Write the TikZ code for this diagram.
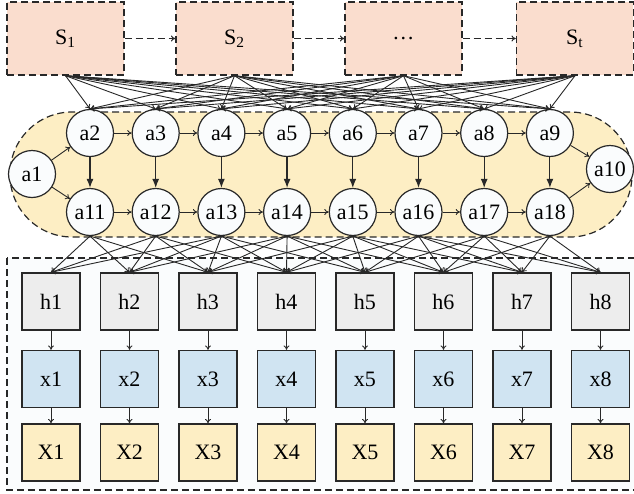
\documentclass[tikz,border=0pt]{standalone}
\usepackage{fontspec}
\setmainfont{Liberation Serif}
\usetikzlibrary{arrows.meta}
\definecolor{sfill}{RGB}{250,221,206}
\definecolor{yfill}{RGB}{253,238,196}
\definecolor{gfill}{RGB}{237,237,237}
\definecolor{bfill}{RGB}{208,228,242}
\definecolor{lc}{RGB}{40,40,40}
\definecolor{pfill}{RGB}{250,252,253}
\begin{document}
\begin{tikzpicture}[x=0.5pt,y=-0.5pt,font=\fontsize{11}{13}\selectfont,
  dsh/.style={dash pattern=on 3.5pt off 2pt},
  sbox/.style={draw=lc,dsh,fill=sfill,minimum width=58.5pt,minimum height=36.5pt,line width=0.7pt,inner sep=0pt},
  anode/.style={circle,draw=lc,fill=pfill,minimum size=23.5pt,inner sep=0pt,line width=0.6pt},
  sq/.style={draw=lc,minimum width=29pt,minimum height=28.5pt,inner sep=0pt,line width=0.7pt},
  edge/.style={draw=lc,line width=0.45pt},
  ta/.style={edge,-{To[length=2.2pt,width=3pt]}},
  va/.style={edge,line width=0.6pt,-{Latex[length=4.5pt,width=3.5pt]}},
  sa/.style={edge,-{To[length=2.2pt,width=3pt]}}]
\useasboundingbox (0,0) rectangle (634,494);
% background regions
\draw[draw=lc,dsh,line width=0.6pt,fill=yfill,rounded corners=31pt] (10,112) rectangle (632,237);
\draw[draw=lc,dsh,line width=0.6pt,fill=pfill] (7,258) rectangle (650,490);
% S boxes
\node[sbox] (S1) at (65.5,38.5) {S\textsubscript{1}};
\node[sbox] (S2) at (234.5,38.5) {S\textsubscript{2}};
\node[sbox] (S3) at (403.5,38.5) {\dots};
\node[sbox] (S4) at (575,38.5) {S\textsubscript{t}};
\draw[edge,dsh,line width=0.5pt,-{To[length=2.2pt,width=3pt]}] (S1) -- (S2);
\draw[edge,dsh,line width=0.5pt,-{To[length=2.2pt,width=3pt]}] (S2) -- (S3);
\draw[edge,dsh,line width=0.5pt,-{To[length=2.2pt,width=3pt]}] (S3) -- (S4);
% a nodes
\node[anode] (a1) at (32,174) {a1};
\node[anode] (a10) at (610,169) {a10};
\foreach \i in {2,...,9} {
  \node[anode] (a\i) at ({90+65.7*(\i-2)},133) {a\i};
}
\foreach \i in {11,...,18} {
  \node[anode] (a\i) at ({90+65.7*(\i-11)},212) {a\i};
}
% a edges
\draw[ta] (a1) -- (a2);
\draw[ta] (a1) -- (a11);
\draw[ta] (a9) -- (a10);
\draw[ta] (a18) -- (a10);
\foreach \i in {2,...,8} {
  \pgfmathtruncatemacro\n{\i+1}
  \draw[ta] (a\i) -- (a\n);
}
\foreach \i in {11,...,17} {
  \pgfmathtruncatemacro\n{\i+1}
  \draw[ta] (a\i) -- (a\n);
}
\foreach \i in {2,...,9} {
  \pgfmathtruncatemacro\n{\i+9}
  \draw[va] (a\i) -- (a\n);
}
% S -> a
\foreach \s in {1,...,4} {
  \foreach \i in {2,...,9} {
    \draw[sa] (S\s.south) -- (a\i.north);
  }
}
% bottom columns
\foreach \j in {1,...,8} {
  \node[sq,fill=gfill] (h\j) at ({51+78.5*(\j-1)},301.5) {h\j};
  \node[sq,fill=bfill] (x\j) at ({51+78.5*(\j-1)},379) {x\j};
  \node[sq,fill=yfill] (X\j) at ({51+78.5*(\j-1)},452.5) {X\j};
  \draw[ta] (h\j) -- (x\j);
  \draw[ta] (x\j) -- (X\j);
}
% a -> h
\foreach \i in {1,...,8} {
  \foreach \j in {1,...,8} {
    \pgfmathtruncatemacro\d{abs(\i-\j)}
    \pgfmathtruncatemacro\k{\i+10}
    \ifnum\d<3
      \draw[sa] (a\k.south) -- (h\j.north);
    \fi
  }
}
\end{tikzpicture}
\end{document}
